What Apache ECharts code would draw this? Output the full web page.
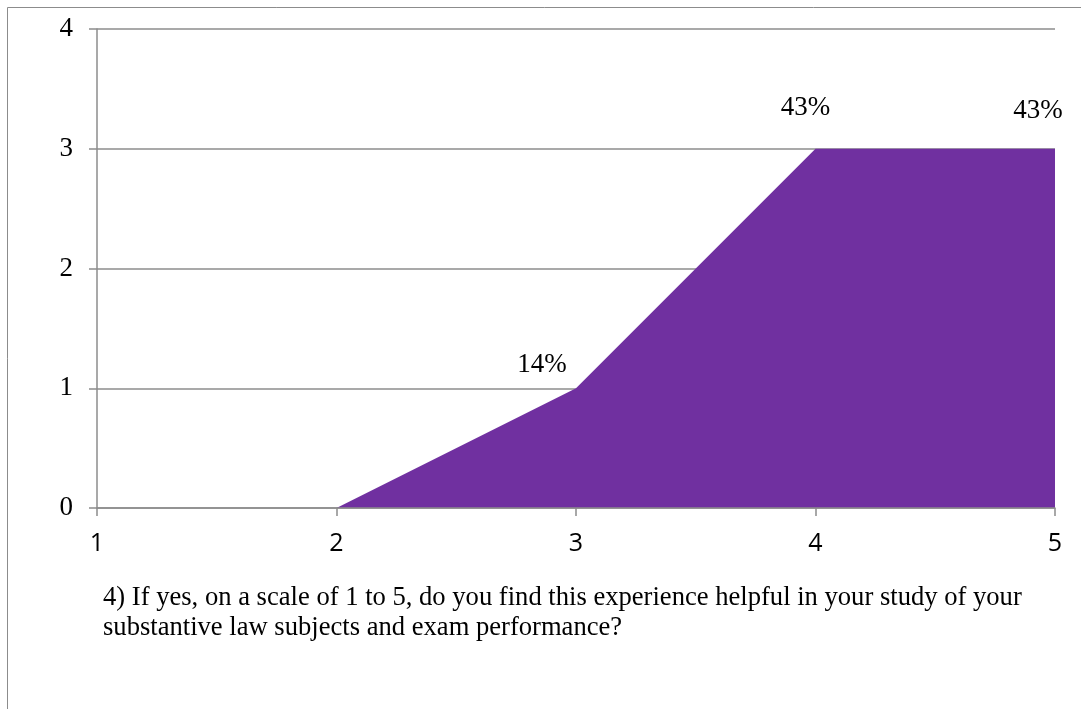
<!DOCTYPE html>
<html>
<head>
<meta charset="utf-8">
<script src="https://cdn.jsdelivr.net/npm/echarts@6/dist/echarts.min.js"></script>
<style>html,body{margin:0;padding:0;background:#fff;}#c{width:1081px;height:709px;}</style>
</head>
<body>
<div id="c"></div>
<script>
const categories = ['1', '2', '3', '4', '5'];
const values = [0, 0, 1, 3, 3];
const pointLabels = ['', '', '14%', '43%', '43%'];
const yTicks = [0, 1, 2, 3, 4];
const captionLines = [
  '4) If yes, on a scale of 1 to 5, do you find this experience helpful in your study of your',
  'substantive law subjects and exam performance?'
];

// label placement (style only)
const labelOffsets = [[0, 0], [0, 0], [-34, -9], [-10, -27], [-17, -24]];

const serif = '"Liberation Serif", "Times New Roman", serif';
const sans = '"Open Sans", "Liberation Sans", sans-serif';
const gridColor = '#8c8c8c';

const chart = echarts.init(document.getElementById('c'), null, { renderer: 'canvas' });

chart.setOption({
  backgroundColor: '#fff',
  animation: false,
  grid: { left: 97, right: 26, top: 29, bottom: 201, containLabel: false },
  xAxis: {
    type: 'category',
    data: categories,
    boundaryGap: false,
    z: 5,
    axisLine: { lineStyle: { color: gridColor, width: 1.5 } },
    axisTick: { show: true, length: 8, lineStyle: { color: gridColor, width: 1.5 } },
    axisLabel: { color: '#000', fontFamily: sans, fontSize: 25, margin: 23 },
    splitLine: { show: false }
  },
  yAxis: {
    type: 'value',
    min: yTicks[0],
    max: yTicks[yTicks.length - 1],
    interval: 1,
    axisLine: { show: true, lineStyle: { color: gridColor, width: 1.5 } },
    axisTick: { show: true, length: 8, lineStyle: { color: gridColor, width: 1.5 } },
    axisLabel: { color: '#000', fontFamily: serif, fontSize: 27, margin: 24 },
    splitLine: { show: true, lineStyle: { color: gridColor, width: 1.5 } }
  },
  series: [{
    type: 'line',
    data: values.map((v, i) => ({
      value: v,
      label: {
        show: pointLabels[i] !== '',
        formatter: pointLabels[i],
        offset: labelOffsets[i]
      }
    })),
    showSymbol: true,
    symbol: 'circle',
    symbolSize: 1,
    itemStyle: { color: 'rgba(0,0,0,0)', borderWidth: 0 },
    lineStyle: { color: '#7030A0', width: 0 },
    areaStyle: { color: '#7030A0', opacity: 1 },
    label: {
      show: true,
      position: 'top',
      distance: 0,
      color: '#000',
      fontFamily: serif,
      fontSize: 27
    },
    z: 1
  }],
  graphic: [
    {
      type: 'rect',
      shape: { x: 7.5, y: 7.5, width: 1100, height: 800 },
      style: { fill: 'none', stroke: '#8c8c8c', lineWidth: 1 },
      silent: true,
      z: -10
    },
    {
      type: 'text',
      left: 103,
      top: 583,
      style: {
        text: captionLines.join('\n'),
        fill: '#000',
        font: '26.6px ' + serif,
        lineHeight: 30
      }
    }
  ]
});
</script>
</body>
</html>
